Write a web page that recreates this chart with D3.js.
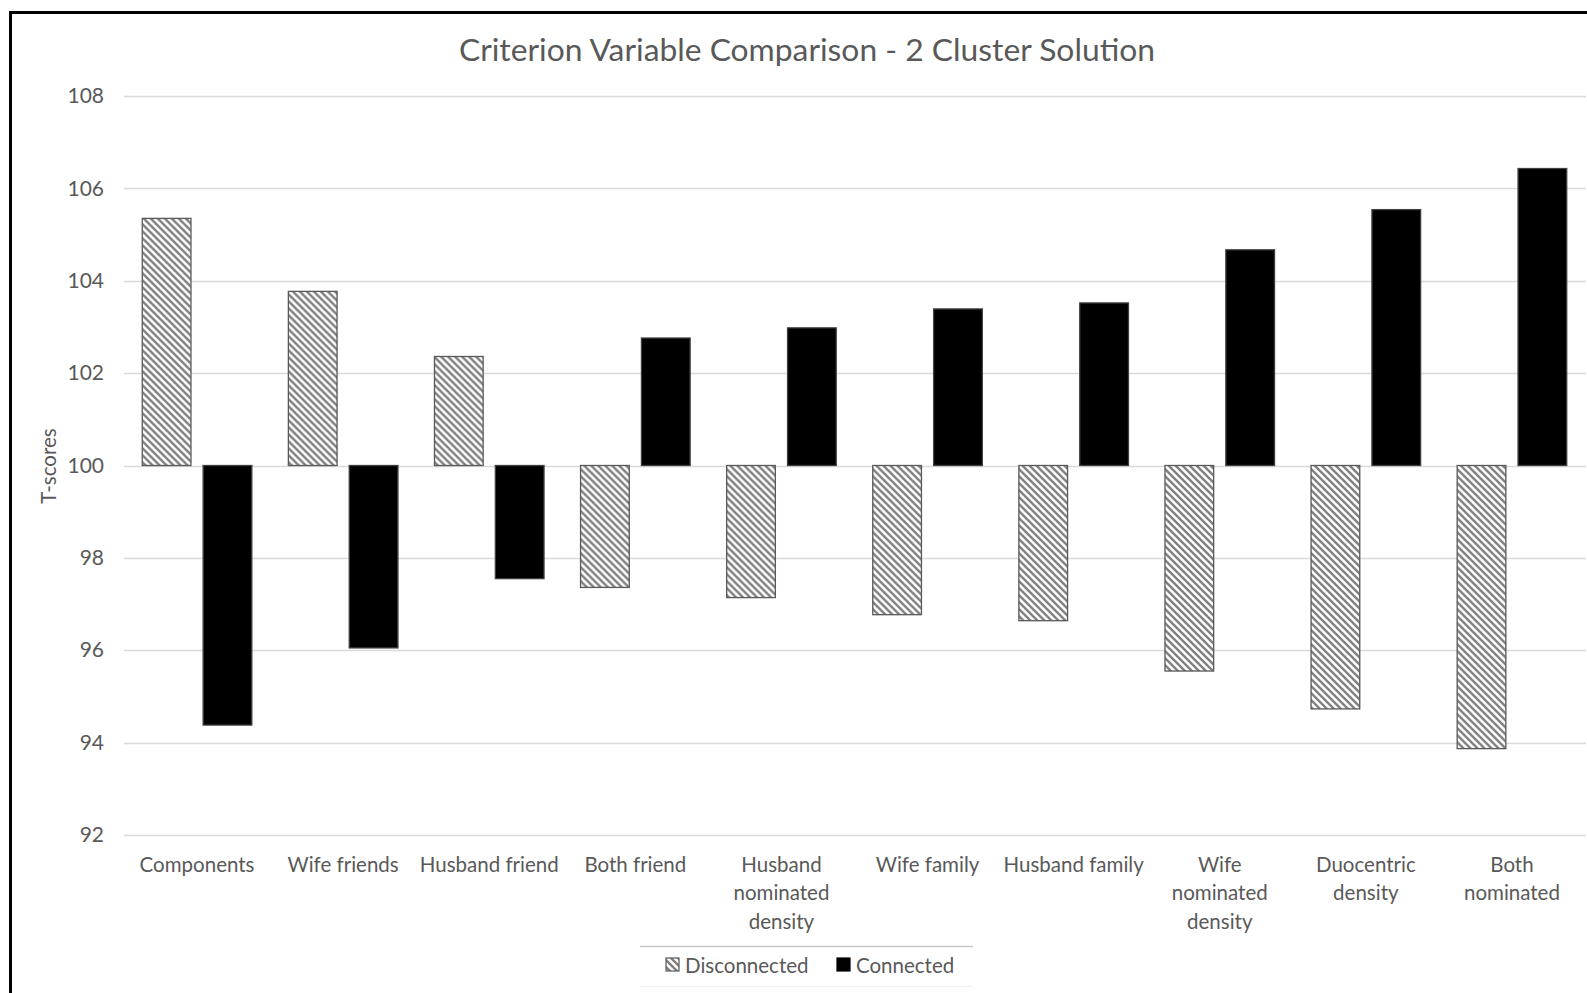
<!DOCTYPE html>
<html>
<head>
<meta charset="utf-8">
<script src="https://cdn.jsdelivr.net/npm/d3@7"></script>
<style>
  html, body { margin: 0; padding: 0; background: #fff; }
  svg { display: block; font-family: Lato, "Open Sans", sans-serif; }
</style>
</head>
<body>
<svg id="chart" width="1587" height="993"></svg>
<script>
// Criterion variables (x categories) and their wrapped axis labels
const categories = [
  "Components", "Wife friends", "Husband friend", "Both friend",
  "Husband nominated density", "Wife family", "Husband family",
  "Wife nominated density", "Duocentric density", "Both nominated"
];
const tickLabels = [
  ["Components"], ["Wife friends"], ["Husband friend"], ["Both friend"],
  ["Husband", "nominated", "density"], ["Wife family"], ["Husband family"],
  ["Wife", "nominated", "density"], ["Duocentric", "density"], ["Both", "nominated"]
];

// Series: mean T-scores per cluster
const seriesNames = ["Disconnected", "Connected"];
const disconnected = [105.35, 103.77, 102.36, 97.36, 97.14, 96.77, 96.64, 95.55, 94.73, 93.87];
const connected    = [94.38, 96.05, 97.55, 102.76, 102.98, 103.39, 103.52, 104.67, 105.54, 106.43];

const yTicks = [92, 94, 96, 98, 100, 102, 104, 106, 108];
const baseline = 100;

const svg = d3.select("#chart");
const textColor = "#595959";

// Hatch pattern for the Disconnected series
const defs = svg.append("defs");
const P = 7;
const pat = defs.append("pattern")
  .attr("id", "hatch")
  .attr("patternUnits", "userSpaceOnUse")
  .attr("width", P).attr("height", P);
pat.append("rect").attr("width", P).attr("height", P).attr("fill", "#fff");
pat.append("path")
  .attr("d", `M-1,-1 L${P + 1},${P + 1} M-3,${P - 3} L3,${P + 3} M${P - 3},-3 L${P + 3},3`)
  .attr("stroke", "#808080").attr("stroke-width", 2.4);

// Outer frame
svg.append("rect")
  .attr("x", 10.5).attr("y", 12.5)
  .attr("width", 1700).attr("height", 1100)
  .attr("fill", "none").attr("stroke", "#000").attr("stroke-width", 3);

// Scales
const x0 = d3.scaleBand()
  .domain(categories)
  .range([124, 1585])
  .paddingInner(0.25)
  .paddingOuter(0.125);
const x1 = d3.scaleBand()
  .domain(seriesNames)
  .range([0, x0.bandwidth()])
  .paddingInner(0.2);
const y = d3.scaleLinear().domain([92, 108]).range([835, 96]);

// Gridlines
svg.append("g")
  .selectAll("line")
  .data(yTicks)
  .join("line")
  .attr("x1", 124).attr("x2", 1586)
  .attr("y1", d => Math.round(y(d)) + 0.5)
  .attr("y2", d => Math.round(y(d)) + 0.5)
  .attr("stroke", "#d9d9d9").attr("stroke-width", 1.3);

// Y axis labels
const yAxis = d3.axisLeft(y).tickValues(yTicks).tickSize(0).tickPadding(0);
const yg = svg.append("g").attr("transform", "translate(104,0)").call(yAxis);
yg.select(".domain").remove();
yg.selectAll("text")
  .attr("font-family", "Lato, 'Open Sans', sans-serif")
  .attr("font-size", 21)
  .attr("fill", textColor);

// Bars
const rows = categories.map((c, i) => ({
  cat: c,
  values: [
    { series: "Disconnected", value: disconnected[i] },
    { series: "Connected", value: connected[i] }
  ]
}));

const groups = svg.append("g")
  .selectAll("g")
  .data(rows)
  .join("g")
  .attr("transform", d => `translate(${x0(d.cat)},0)`);

groups.selectAll("rect")
  .data(d => d.values)
  .join("rect")
  .attr("x", d => x1(d.series))
  .attr("width", x1.bandwidth())
  .attr("y", d => y(Math.max(d.value, baseline)))
  .attr("height", d => Math.abs(y(d.value) - y(baseline)))
  .attr("fill", d => d.series === "Disconnected" ? "url(#hatch)" : "#000")
  .attr("stroke", d => d.series === "Disconnected" ? "#595959" : "#404040")
  .attr("stroke-width", 1.3);

// Category labels
const catG = svg.append("g");
categories.forEach((c, i) => {
  const t = catG.append("text")
    .attr("x", x0(c) + x0.bandwidth() / 2)
    .attr("y", 864)
    .attr("text-anchor", "middle")
    .attr("font-size", 20.5)
    .attr("fill", textColor);
  tickLabels[i].forEach((line, j) => {
    t.append("tspan")
      .attr("x", x0(c) + x0.bandwidth() / 2)
      .attr("y", 864 + j * 28.3)
      .attr("dominant-baseline", "central")
      .text(line);
  });
});

// Title
svg.append("text")
  .attr("x", 807).attr("y", 49)
  .attr("text-anchor", "middle")
  .attr("dominant-baseline", "central")
  .attr("font-size", 31.8)
  .attr("fill", textColor)
  .text("Criterion Variable Comparison - 2 Cluster Solution");

// Y axis title
svg.append("text")
  .attr("transform", "translate(48,466) rotate(-90)")
  .attr("text-anchor", "middle")
  .attr("dominant-baseline", "central")
  .attr("font-size", 20.5)
  .attr("fill", textColor)
  .text("T-scores");

// Legend
const legend = svg.append("g");
legend.append("line")
  .attr("x1", 640).attr("x2", 973).attr("y1", 946.5).attr("y2", 946.5)
  .attr("stroke", "#c8c8c8").attr("stroke-width", 1.3);
legend.append("line")
  .attr("x1", 640).attr("x2", 973).attr("y1", 986.5).attr("y2", 986.5)
  .attr("stroke", "#f0f0f0").attr("stroke-width", 1);
const legendItems = [
  { name: seriesNames[0], fill: "url(#hatch)", stroke: "#595959", x: 666 },
  { name: seriesNames[1], fill: "#000", stroke: "#000", x: 837 }
];
legendItems.forEach(it => {
  legend.append("rect")
    .attr("x", it.x).attr("y", 958).attr("width", 13).attr("height", 13)
    .attr("fill", it.fill).attr("stroke", it.stroke).attr("stroke-width", 1.2);
  legend.append("text")
    .attr("x", it.x + 19).attr("y", 964.5)
    .attr("dominant-baseline", "central")
    .attr("font-size", 20.5)
    .attr("fill", textColor)
    .text(it.name);
});
</script>
</body>
</html>
